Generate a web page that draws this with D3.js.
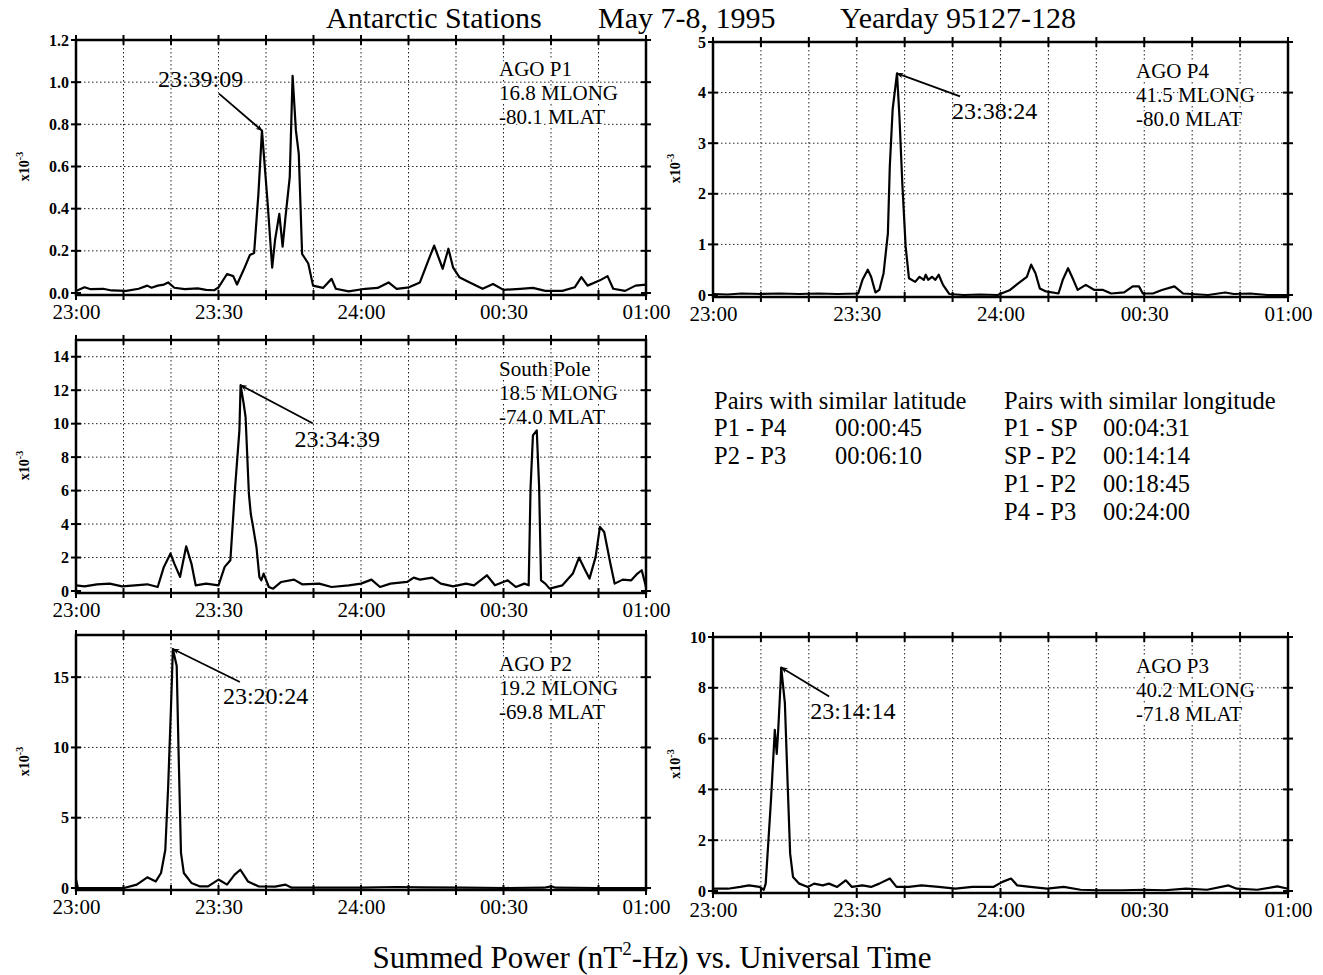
<!DOCTYPE html>
<html><head><meta charset="utf-8">
<script src="https://cdn.jsdelivr.net/npm/d3@7"></script>
<style>
body{margin:0;background:#fff}
svg text{font-family:"Liberation Serif","Times New Roman",Times,serif;fill:#000}
</style>
</head><body>
<svg id="chart" width="1323" height="975"></svg>
<script>
// ---- data (minutes after 23:00 UT, summed power x10^-3 nT^2-Hz) ----
const xTickMinutes = [0, 30, 60, 90, 120];
const xTickLabels = ["23:00", "23:30", "24:00", "00:30", "01:00"];
const gridMinutes = [10, 20, 30, 40, 50, 60, 70, 80, 90, 100, 110];

const agoP1 = [[0,0.01],[1.8,0.027],[3.1,0.018],[5.7,0.02],[7.5,0.012],[10.6,0.01],[13.2,0.02],[15,0.035],[15.9,0.025],[17.2,0.035],[18.5,0.04],[19.4,0.05],[20.7,0.025],[22.9,0.018],[25.6,0.022],[27.4,0.015],[29.1,0.013],[30,0.027],[31.8,0.09],[33.1,0.08],[33.9,0.04],[35.3,0.11],[36.6,0.18],[37.5,0.19],[38.4,0.47],[39.15,0.77],[40.3,0.44],[41.3,0.12],[41.9,0.25],[42.8,0.375],[43.5,0.22],[44.1,0.36],[45,0.55],[45.6,1.03],[46.3,0.77],[46.9,0.66],[47.6,0.185],[48.9,0.14],[49.9,0.035],[52,0.024],[53.8,0.067],[54.7,0.02],[57.4,0.008],[60.9,0.02],[63.5,0.024],[65.8,0.05],[67.5,0.02],[70.1,0.027],[72.4,0.05],[74.1,0.15],[75.4,0.225],[76.3,0.17],[77.2,0.115],[78.4,0.21],[79.4,0.12],[80.7,0.075],[82.9,0.05],[85.6,0.02],[87.8,0.043],[90,0.015],[93.5,0.02],[96.2,0.024],[98.8,0.01],[102.4,0.01],[105,0.027],[106.4,0.075],[107.7,0.035],[110.3,0.06],[111.9,0.08],[113.1,0.02],[115.6,0.01],[117.8,0.035],[120,0.04]];

const agoP4 = [[0,0.02],[3,0.01],[6,0.03],[10,0.02],[14,0.03],[18,0.02],[22,0.03],[26,0.02],[30.3,0.03],[31.2,0.3],[32.3,0.5],[33,0.36],[33.9,0.05],[34.7,0.1],[35.6,0.43],[36.5,1.22],[36.9,2.55],[37.5,3.68],[38.4,4.38],[38.9,3.54],[39.5,2.22],[40.2,0.96],[40.9,0.33],[42.2,0.26],[43.1,0.36],[44,0.3],[44.4,0.4],[44.9,0.3],[45.7,0.36],[46.4,0.3],[47.1,0.4],[48,0.2],[49.3,0.02],[52.3,0],[55.8,0.01],[59.4,0],[62,0.1],[63.7,0.23],[65.5,0.36],[66.4,0.6],[67.3,0.43],[68.2,0.13],[69.5,0.07],[72.1,0.03],[73,0.3],[74.1,0.53],[75.2,0.3],[76.1,0.1],[77.8,0.2],[79.6,0.1],[81.4,0.1],[83.1,0.03],[85.8,0.05],[87.6,0.17],[88.9,0.17],[89.7,0.03],[91.8,0.03],[93.7,0.1],[96.3,0.17],[98.1,0.03],[103.3,0],[106.9,0.05],[108.7,0.02],[112.1,0.03],[115.7,0],[120,0]];

const southPole = [[0,0.34],[1.8,0.28],[4.4,0.4],[7.1,0.44],[9.7,0.28],[12.4,0.34],[15,0.4],[17.2,0.24],[18.5,1.44],[19.9,2.24],[20.7,1.64],[21.9,0.84],[23.2,2.67],[24.3,1.64],[25.2,0.34],[27.4,0.44],[30,0.34],[31.3,1.44],[32.5,1.84],[33.5,6.2],[34.4,9.6],[34.65,12.3],[35.3,11.2],[35.7,10.4],[36.4,5.8],[36.8,4.6],[37.3,3.8],[38,2.6],[38.6,0.84],[39,0.64],[39.5,1.04],[40.6,0.24],[41.5,0.14],[43.2,0.54],[45.9,0.68],[47.6,0.4],[51.2,0.44],[53.8,0.24],[57.4,0.34],[60,0.44],[62.2,0.68],[64,0.24],[66.2,0.44],[69.7,0.54],[71.1,0.8],[72.4,0.68],[75,0.8],[76.8,0.44],[79.4,0.28],[82.1,0.44],[83.8,0.34],[86.5,0.94],[88.2,0.34],[90.9,0.64],[92.6,0.24],[94.4,0.44],[95.3,0.34],[95.7,6.2],[96.2,9.3],[97,9.6],[97.5,6.2],[97.9,0.64],[98.8,0.44],[99.7,0.14],[102.4,0.34],[104.6,1.04],[105.9,2.0],[107.2,1.24],[108.1,0.74],[109.4,2.04],[110.3,3.83],[111.2,3.53],[112.5,1.64],[113.4,0.44],[115.1,0.68],[116.9,0.64],[118.2,1.04],[119.1,1.24],[120,0.24]];

const agoP2 = [[0,0.6],[0.4,0],[5,0],[10.1,0],[12.8,0.24],[15,0.76],[16.8,0.47],[17.9,1.07],[18.8,2.7],[19.4,7.2],[20,12.9],[20.4,17],[21.2,15.8],[21.6,9.6],[22.1,2.5],[22.7,1.07],[24.3,0.36],[26,0.12],[27.8,0.12],[30,0.6],[31.8,0.24],[33.4,0.95],[34.6,1.3],[36.2,0.47],[38.4,0.12],[41.9,0.1],[44.1,0.24],[45.4,0.02],[49.9,0.02],[60,0.03],[67.5,0.07],[72.8,0.05],[81.6,0.02],[90.4,0],[98.5,0.02],[100,0.12],[101,0.02],[110,0],[120,0]];

const agoP3 = [[0,0.09],[3.1,0.09],[5.7,0.16],[7.5,0.22],[9.7,0.16],[10.6,0.05],[11,0.29],[12.1,3.58],[12.9,6.34],[13.3,5.4],[13.6,6.3],[14.1,8.18],[14.23,8.8],[15,7.4],[15.6,4.1],[16.1,1.47],[16.7,0.55],[18,0.29],[19.8,0.16],[21.1,0.29],[22.9,0.22],[24.2,0.29],[25.9,0.16],[27.7,0.42],[29,0.16],[31.2,0.22],[33,0.16],[34.7,0.29],[36.9,0.49],[38.3,0.16],[40.9,0.16],[43.5,0.22],[47.1,0.16],[50.6,0.09],[54.1,0.16],[58.5,0.16],[60.4,0.36],[62.2,0.49],[63.5,0.22],[66.2,0.16],[69.7,0.09],[73.2,0.16],[76.7,0.05],[80.2,0.03],[85.4,0.03],[89.9,0.05],[94.3,0.03],[98.7,0.09],[103.1,0.05],[107.6,0.22],[109.3,0.09],[113.6,0.05],[117.8,0.18],[120,0.09]];

const p1Ticks = [0, 0.2, 0.4, 0.6, 0.8, 1.0, 1.2];
const p4Ticks = [0, 1, 2, 3, 4, 5];
const spTicks = [0, 2, 4, 6, 8, 10, 12, 14];
const p2Ticks = [0, 5, 10, 15];
const p3Ticks = [0, 2, 4, 6, 8, 10];

const pairsLatitude = [["P1 - P4", "00:00:45"], ["P2 - P3", "00:06:10"]];
const pairsLongitude = [["P1 - SP", "00:04:31"], ["SP - P2", "00:14:14"], ["P1 - P2", "00:18:45"], ["P4 - P3", "00:24:00"]];

// ---- layout ----
const panels = [
  {data: agoP1, label: ["AGO P1","16.8 MLONG","-80.1 MLAT"], ticks: p1Ticks, fmt: d3.format(".1f"), yMax: 1.2,
   box: {l: 76, r: 646, t: 40, b: 293}, peak: [39.15, 0.77], note: "23:39:09", arrow: [-43, -37], text: [-61, -7]},
  {data: agoP4, label: ["AGO P4","41.5 MLONG","-80.0 MLAT"], ticks: p4Ticks, fmt: d3.format("d"), yMax: 5,
   box: {l: 713, r: 1288, t: 42, b: 295}, peak: [38.4, 4.38], note: "23:38:24", arrow: [63, 23], text: [-8, 23]},
  {data: southPole, label: ["South Pole","18.5 MLONG","-74.0 MLAT"], ticks: spTicks, fmt: d3.format("d"), yMax: 15,
   box: {l: 76, r: 646, t: 340, b: 591}, peak: [34.65, 12.3], note: "23:34:39", arrow: [72, 38], text: [-18, 24]},
  {data: agoP2, label: ["AGO P2","19.2 MLONG","-69.8 MLAT"], ticks: p2Ticks, fmt: d3.format("d"), yMax: 18,
   box: {l: 76, r: 646, t: 635, b: 888}, peak: [20.4, 17], note: "23:20:24", arrow: [67, 33], text: [-17, 22]},
  {data: agoP3, label: ["AGO P3","40.2 MLONG","-71.8 MLAT"], ticks: p3Ticks, fmt: d3.format("d"), yMax: 10,
   box: {l: 713, r: 1288, t: 637, b: 891}, peak: [14.23, 8.8], note: "23:14:14", arrow: [48, 29], text: [-19, 23]}
];

const svg = d3.select("#chart");
const defs = svg.append("defs");
defs.append("marker").attr("id", "arr").attr("viewBox", "0 0 10 10")
  .attr("refX", 9).attr("refY", 5).attr("markerWidth", 9).attr("markerHeight", 7)
  .attr("markerUnits", "userSpaceOnUse").attr("orient", "auto")
  .append("path").attr("d", "M0,1 L10,5 L0,9 L3,5 Z").attr("fill", "#000");

panels.forEach(p => {
  const B = p.box;
  const x = d3.scaleLinear().domain([0, 120]).range([B.l, B.r]);
  const y = d3.scaleLinear().domain([0, p.yMax]).range([B.b, B.t]);
  const g = svg.append("g");

  // grid
  g.selectAll(".vg").data(gridMinutes).join("line")
    .attr("x1", d => x(d)).attr("x2", d => x(d)).attr("y1", B.t).attr("y2", B.b)
    .attr("stroke", "#222").attr("stroke-width", 1).attr("stroke-dasharray", "1.5,2.5");
  g.selectAll(".hg").data(p.ticks.filter(t => t > 0 && t < p.yMax)).join("line")
    .attr("y1", d => y(d)).attr("y2", d => y(d)).attr("x1", B.l).attr("x2", B.r)
    .attr("stroke", "#222").attr("stroke-width", 1).attr("stroke-dasharray", "1.5,2.5");

  // trace
  const line = d3.line().x(d => x(d[0])).y(d => y(d[1]));
  g.append("path").datum(p.data).attr("d", line)
    .attr("fill", "none").attr("stroke", "#000").attr("stroke-width", 2.2).attr("stroke-linejoin", "round");

  // frame
  g.append("rect").attr("x", B.l).attr("y", B.t).attr("width", B.r - B.l).attr("height", B.b - B.t + 2)
    .attr("fill", "none").attr("stroke", "#000").attr("stroke-width", 2.5);

  // tick marks on top/bottom frame
  const allMin = [0].concat(gridMinutes, [120]);
  [B.t, B.b + 2].forEach(yy => {
    g.selectAll(null).data(allMin).join("line")
      .attr("x1", d => x(d)).attr("x2", d => x(d)).attr("y1", yy - 5).attr("y2", yy + 5)
      .attr("stroke", "#000").attr("stroke-width", 2);
  });
  // tick marks on left/right frame
  [B.l, B.r].forEach(xx => {
    g.selectAll(null).data(p.ticks).join("line")
      .attr("y1", d => y(d)).attr("y2", d => y(d)).attr("x1", xx - 5).attr("x2", xx + 5)
      .attr("stroke", "#000").attr("stroke-width", 2);
  });

  // y axis labels via d3 axis
  const ya = d3.axisLeft(y).tickValues(p.ticks).tickFormat(p.fmt).tickSize(0).tickPadding(7);
  const yg = svg.append("g").attr("transform", `translate(${B.l},0)`).call(ya);
  yg.select(".domain").remove();
  yg.selectAll("text").style("font-size", "16px").style("font-weight", "bold").style("font-family", "Liberation Serif");

  // x axis labels
  const xa = d3.axisBottom(x).tickValues(xTickMinutes).tickFormat((d, i) => xTickLabels[i]).tickSize(0).tickPadding(11);
  const xg = svg.append("g").attr("transform", `translate(0,${B.b})`).call(xa);
  xg.select(".domain").remove();
  xg.selectAll("text").style("font-size", "21px").style("font-family", "Liberation Serif");

  // y unit label
  const ux = B.l < 300 ? 29 : 680;
  const ut = svg.append("text").attr("transform", `translate(${ux},${(B.t + B.b) / 2}) rotate(-90)`)
    .attr("text-anchor", "middle").style("font-size", "14px").style("font-weight", "bold");
  ut.append("tspan").text("x10");
  ut.append("tspan").attr("dy", -6).style("font-size", "10px").text("-3");

  // station label
  const lt = svg.append("text").style("font-size", "21px")
    .attr("paint-order", "stroke").attr("stroke", "#fff").attr("stroke-width", 4);
  p.label.forEach((s, i) => {
    lt.append("tspan").attr("x", B.l + 423).attr("y", B.t + 36 + i * 24).text(s);
  });

  // peak annotation
  const px = x(p.peak[0]), py = y(p.peak[1]);
  const sx = px + p.arrow[0], sy = py + p.arrow[1];
  svg.append("line").attr("x1", sx).attr("y1", sy).attr("x2", px).attr("y2", py)
    .attr("stroke", "#000").attr("stroke-width", 1.8).attr("marker-end", "url(#arr)");
  svg.append("text").attr("x", sx + p.text[0]).attr("y", sy + p.text[1])
    .style("font-size", "24px").text(p.note);
});

// title
const title = svg.append("text").attr("y", 28).style("font-size", "30px");
title.append("tspan").attr("x", 326).text("Antarctic Stations");
title.append("tspan").attr("x", 598).text("May 7-8, 1995");
title.append("tspan").attr("x", 840).text("Yearday 95127-128");

// pair tables
const tb = svg.append("g").style("font-size", "24.5px");
tb.append("text").attr("x", 714).attr("y", 409).text("Pairs with similar latitude");
pairsLatitude.forEach((r, i) => {
  tb.append("text").attr("x", 714).attr("y", 436 + i * 28).text(r[0]);
  tb.append("text").attr("x", 835).attr("y", 436 + i * 28).text(r[1]);
});
tb.append("text").attr("x", 1004).attr("y", 409).text("Pairs with similar longitude");
pairsLongitude.forEach((r, i) => {
  tb.append("text").attr("x", 1004).attr("y", 436 + i * 28).text(r[0]);
  tb.append("text").attr("x", 1103).attr("y", 436 + i * 28).text(r[1]);
});

// bottom caption
const cap = svg.append("text").attr("x", 652).attr("y", 968).attr("text-anchor", "middle").style("font-size", "31px");
cap.append("tspan").text("Summed Power (nT");
cap.append("tspan").attr("dy", -13).style("font-size", "19px").text("2");
cap.append("tspan").attr("dy", 13).text("-Hz) vs. Universal Time");
</script>
</body></html>
